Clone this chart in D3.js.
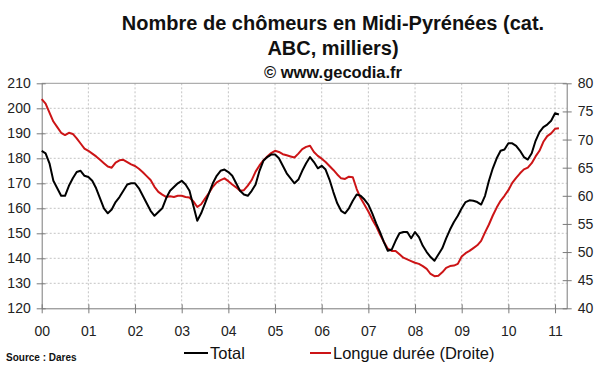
<!DOCTYPE html>
<html>
<head>
<meta charset="utf-8">
<script src="https://cdn.jsdelivr.net/npm/d3@7"></script>
<style>
  body { margin: 0; background: #fff; }
  svg { font-family: "Liberation Sans", Arial, sans-serif; }
</style>
</head>
<body>
<svg id="chart" width="600" height="372"></svg>
<script>
// monthly data, Jan 2000 -> Feb 2011
const yearLabels = ["00", "01", "02", "03", "04", "05", "06", "07", "08", "09", "10", "11"]

const total = [
  183, 182, 178, 171, 168, 165, 165, 169, 172, 174.5, 175, 173,
  172.5, 171, 168, 164, 160, 158, 159.5, 162.5, 164.5, 167, 169.5, 170,
  170, 168, 165, 162, 159, 157, 158.5, 160, 164, 167, 168.5, 170,
  171, 169.5, 167, 161, 155, 158, 162, 166, 170, 173, 175, 175.5,
  174.5, 173, 170, 167, 165.5, 165, 167, 169.5, 175, 179, 180.5, 181.5,
  181.5, 180, 177, 174, 172, 170, 171.5, 175, 178, 180.5, 178.5, 176,
  177, 175.5, 171.5, 166.5, 162, 159, 158, 160, 163, 165.5, 165, 163.5,
  161.5, 158, 154, 150.5, 146.5, 143, 143.5, 147, 150, 150.5, 150.5, 148,
  150.5, 148.5, 145, 142.5, 140.5, 139, 141.5, 144, 148, 151.5, 154.5, 157,
  160, 162.5, 163.2, 163, 162.5, 161.5, 165, 171, 176, 180, 183, 183.5,
  186, 186, 185, 183, 180.5, 179.5, 182, 187, 190.5, 192.5, 193.5, 195,
  198, 197.5
]

const longueDuree = [
  77.2, 76.4, 74.8, 73.2, 72.2, 71.2, 70.8, 71.2, 71, 70.2, 69.3, 68.4,
  68, 67.5, 67, 66.4, 65.8, 65.2, 65, 65.9, 66.3, 66.4, 66, 65.6,
  65.3, 64.8, 64.2, 63.5, 62.8, 61.6, 60.7, 60.2, 59.8, 59.9, 59.8, 60,
  60, 59.8, 59.7, 59, 58, 58.5, 59.5, 60.5, 61.6, 62.4, 62.8, 63.1,
  62.6, 62, 61.5, 60.9, 61, 61.8, 62.8, 64.3, 65.4, 66.3, 67, 67.6,
  68, 67.8, 67.4, 67.2, 67, 66.8, 67.5, 68.3, 68.7, 68.9, 67.8, 67.1,
  66.6, 66, 65.3, 64.6, 63.8, 63.1, 63, 63.4, 63.3, 61.2, 59.6, 58.4,
  57.2, 55.8, 54.6, 53.1, 51.8, 50.6, 50.2, 50.2, 49.6, 49, 48.7, 48.4,
  48.1, 47.9, 47.5, 47, 46.1, 45.7, 45.8, 46.4, 47.2, 47.5, 47.6, 47.9,
  49.2, 49.8, 50.2, 50.7, 51.2, 52, 53.5, 54.9, 56.5, 57.9, 59.1, 60,
  61, 62.3, 63.2, 64, 64.7, 65, 65.8, 67, 68, 69.6, 70.6, 71.1,
  71.9, 72
]

const leftTicks = [120, 130, 140, 150, 160, 170, 180, 190, 200, 210]
const rightTicks = [40, 45, 50, 55, 60, 65, 70, 75, 80]

const svg = d3.select('#chart')

// plot area
const pLeft = 41.7, pRight = 566.7, pTop = 83.3, pBottom = 308.3

const x = d3.scaleLinear().domain([0, 135]).range([pLeft, pRight])
const yL = d3.scaleLinear().domain([120, 210]).range([pBottom, pTop])
const yR = d3.scaleLinear().domain([40, 80]).range([pBottom, pTop])

const axisCol = '#7a7a7a'
const gridCol = '#c4c4c4'

// title
const title = svg.append('g').attr('text-anchor', 'middle').attr('font-weight', 'bold').attr('fill', '#111')
title.append('text').attr('x', 333).attr('y', 29.5).attr('font-size', 20).text('Nombre de chômeurs en Midi-Pyrénées (cat.')
title.append('text').attr('x', 333).attr('y', 55).attr('font-size', 20).text('ABC, milliers)')
title.append('text').attr('x', 333).attr('y', 78).attr('font-size', 16.5).text('© www.gecodia.fr')

// grid
const grid = svg.append('g')
grid.selectAll('line.h')
  .data(leftTicks.slice(1, -1))
  .join('line')
  .attr('x1', pLeft).attr('x2', pRight)
  .attr('y1', d => yL(d)).attr('y2', d => yL(d))
  .attr('stroke', gridCol).attr('stroke-dasharray', '2,2')
grid.selectAll('line.v')
  .data(d3.range(1, yearLabels.length))
  .join('line')
  .attr('x1', d => x(d * 12)).attr('x2', d => x(d * 12))
  .attr('y1', pTop).attr('y2', pBottom)
  .attr('stroke', gridCol).attr('stroke-dasharray', '2,2')

// top frame
svg.append('line')
  .attr('x1', pLeft).attr('x2', pRight).attr('y1', pTop).attr('y2', pTop)
  .attr('stroke', '#9a9a9a')

// axes
const xAxis = d3.axisBottom(x)
  .tickValues(d3.range(0, yearLabels.length).map(i => i * 12))
  .tickFormat((d, i) => yearLabels[i])
  .tickSizeInner(4).tickSizeOuter(0).tickPadding(14)
const gx = svg.append('g')
  .attr('transform', `translate(0, ${pBottom})`)
  .call(xAxis)
gx.selectAll('.tick line').attr('y1', -4).attr('y2', 5)

const gl = svg.append('g')
  .attr('transform', `translate(${pLeft}, 0)`)
  .call(d3.axisLeft(yL).tickValues(leftTicks).tickSizeInner(4).tickSizeOuter(0).tickPadding(7))
gl.selectAll('.tick line').attr('x1', -5).attr('x2', 4)

const gr = svg.append('g')
  .attr('transform', `translate(${pRight}, 0)`)
  .call(d3.axisRight(yR).tickValues(rightTicks).tickSizeInner(4).tickSizeOuter(0).tickPadding(7))
gr.selectAll('.tick line').attr('x1', -4).attr('x2', 5)

svg.selectAll('.domain').attr('stroke', axisCol)
svg.selectAll('.tick line').attr('stroke', axisCol)
svg.selectAll('.tick text')
  .attr('font-size', 14)
  .attr('fill', '#222')
  .attr('font-family', '"Liberation Sans", Arial, sans-serif')

// series
const lineL = d3.line().x((d, i) => x(i)).y(d => yL(d))
const lineR = d3.line().x((d, i) => x(i)).y(d => yR(d))

svg.append('path')
  .datum(longueDuree)
  .attr('d', lineR)
  .attr('fill', 'none')
  .attr('stroke', '#cc1416')
  .attr('stroke-width', 2)
  .attr('stroke-linejoin', 'round')

svg.append('path')
  .datum(total)
  .attr('d', lineL)
  .attr('fill', 'none')
  .attr('stroke', '#000')
  .attr('stroke-width', 2)
  .attr('stroke-linejoin', 'round')

// legend
const legend = svg.append('g').attr('font-size', 16.5).attr('fill', '#111')
legend.append('line').attr('x1', 184).attr('x2', 208).attr('y1', 353).attr('y2', 353)
  .attr('stroke', '#000').attr('stroke-width', 2)
legend.append('text').attr('x', 210).attr('y', 359).text('Total')
legend.append('line').attr('x1', 310).attr('x2', 331).attr('y1', 353).attr('y2', 353)
  .attr('stroke', '#cc1416').attr('stroke-width', 2)
legend.append('text').attr('x', 333).attr('y', 359).text('Longue durée (Droite)')

svg.append('text')
  .attr('x', 6).attr('y', 361)
  .attr('font-size', 10).attr('font-weight', 'bold').attr('fill', '#111')
  .text('Source : Dares')
</script>
</body>
</html>
